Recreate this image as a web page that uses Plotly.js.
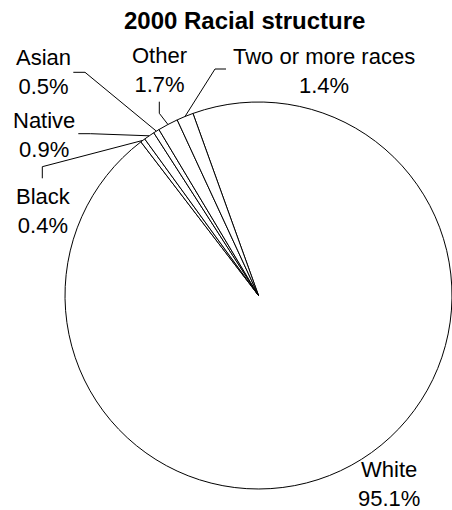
<!DOCTYPE html>
<html><head><meta charset="utf-8">
<script src="https://cdn.plot.ly/plotly-3.0.1.min.js"></script>
<style>html,body{margin:0;padding:0;background:#fff}#chart{width:452px;height:510px}</style>
</head><body><div id="chart"></div>
<script>
const categories = ['White', 'Black', 'Native', 'Asian', 'Other', 'Two or more races'];
const shares = [95.1, 0.4, 0.9, 0.5, 1.7, 1.4];
const chartTitle = '2000 Racial structure';

const W = 452, H = 510;
const FONT = 'Liberation Sans, Arial, sans-serif';
const pieGeom = {cx: 258.5, cy: 295.5, r: 193.5, rotation: -19.8};
// label centres (px) and leader-line elbow points (px)
const labelPos = {
  'White': {x: 389, y: 483.5},
  'Black': {x: 43, y: 211.3, leader: [[42.3, 178.3], [42.3, 166.7]]},
  'Native': {x: 44, y: 134.7, leader: [[78.3, 133.7], [90.7, 133.7]]},
  'Asian': {x: 43.5, y: 71.7, leader: [[73.3, 72.3], [85, 72.3]]},
  'Other': {x: 159.5, y: 70, leader: [[159.3, 101.7], [159.3, 113.3]]},
  'Two or more races': {x: 323.5, y: 70.8, leader: [[226, 69], [215, 69]]}
};

const px = x => x / W;
const py = y => 1 - y / H;

const total = shares.reduce((a, b) => a + b, 0);
let cum = 0;
const annotations = [];
const shapes = [];
categories.forEach((cat, i) => {
  const v = shares[i];
  const mid = (pieGeom.rotation + (cum + v / 2) * 360 / total) * Math.PI / 180;
  cum += v;
  const ex = pieGeom.cx + pieGeom.r * Math.sin(mid);
  const ey = pieGeom.cy - pieGeom.r * Math.cos(mid);
  const lp = labelPos[cat];
  annotations.push({
    xref: 'paper', yref: 'paper', x: px(lp.x), y: py(lp.y),
    xanchor: 'center', yanchor: 'middle', showarrow: false,
    text: cat + '<br>' + v.toFixed(1) + '%',
    font: {family: FONT, size: 22, color: '#000'}
  });
  if (lp.leader) {
    const pts = lp.leader.concat([[ex, ey]]);
    for (let k = 0; k < pts.length - 1; k++) {
      shapes.push({
        type: 'line', xref: 'paper', yref: 'paper',
        x0: px(pts[k][0]), y0: py(pts[k][1]), x1: px(pts[k + 1][0]), y1: py(pts[k + 1][1]),
        line: {color: '#000', width: 1}
      });
    }
  }
});

const trace = {
  type: 'pie',
  labels: categories,
  values: shares,
  sort: false,
  direction: 'clockwise',
  rotation: pieGeom.rotation,
  textinfo: 'none',
  hoverinfo: 'label+percent',
  marker: {colors: categories.map(() => '#ffffff'), line: {color: '#000', width: 1}},
  domain: {
    x: [px(pieGeom.cx - pieGeom.r), px(pieGeom.cx + pieGeom.r)],
    y: [py(pieGeom.cy + pieGeom.r), py(pieGeom.cy - pieGeom.r)]
  }
};

const layout = {
  width: W, height: H,
  margin: {l: 0, r: 0, t: 0, b: 0},
  paper_bgcolor: '#fff',
  showlegend: false,
  title: {
    text: chartTitle,
    font: {family: FONT, size: 24, weight: 'bold', color: '#000'},
    xref: 'paper', x: 244.7 / W, xanchor: 'center',
    yref: 'container', y: 1 - 20.5 / H, yanchor: 'middle'
  },
  annotations: annotations,
  shapes: shapes
};

Plotly.newPlot('chart', [trace], layout, {displayModeBar: false, staticPlot: true});
</script>
</body></html>
